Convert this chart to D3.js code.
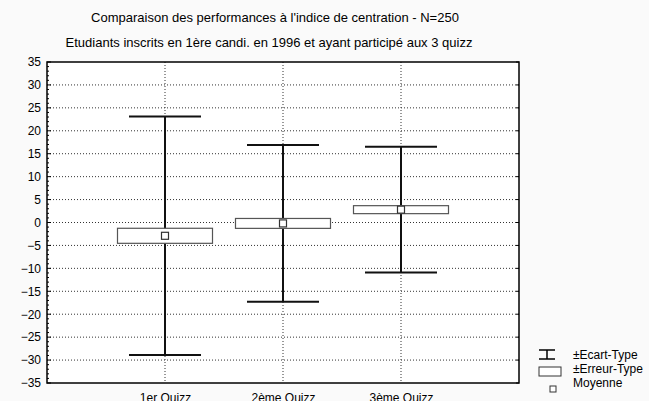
<!DOCTYPE html>
<html>
<head>
<meta charset="utf-8">
<script src="https://cdn.jsdelivr.net/npm/d3@7"></script>
<style>
  body { margin: 0; background: #fafafa; }
  svg { display: block; font-family: "Liberation Sans", Arial, sans-serif; }
</style>
</head>
<body>
<svg id="chart" width="649" height="401"></svg>
<script>
    // data
    const quizzes = ["1er Quizz", "2ème Quizz", "3ème Quizz"];
    const means = [-2.9, -0.2, 2.8];
    const sds = [26.0, 17.1, 13.7];
    const ses = [1.64, 1.08, 0.87];
    const yTicks = d3.range(-35, 36, 5);

    const svg = d3.select("#chart");
    const plotL = 47, plotR = 519, plotT = 62, plotB = 383;

    const x = d3.scalePoint().domain(quizzes).range([plotL, plotR]).padding(1);
    const y = d3.scaleLinear().domain([-35, 35]).range([plotB, plotT]);

    svg.append("rect")
        .attr("x", plotL).attr("y", plotT)
        .attr("width", plotR - plotL).attr("height", plotB - plotT)
        .attr("fill", "white");

    // titles
    svg.append("text")
        .attr("x", 275).attr("y", 22)
        .attr("text-anchor", "middle")
        .attr("font-size", "13px")
        .text("Comparaison des performances à l'indice de centration - N=250");
    svg.append("text")
        .attr("x", 269).attr("y", 47)
        .attr("text-anchor", "middle")
        .attr("font-size", "13px")
        .text("Etudiants inscrits en 1ère candi. en 1996 et ayant participé aux 3 quizz");

    // grid
    const grid = svg.append("g");
    grid.selectAll(".hg")
        .data(yTicks.filter(v => v > -35 && v < 35))
        .join("line")
        .attr("x1", plotL).attr("x2", plotR)
        .attr("y1", d => y(d)).attr("y2", d => y(d))
        .attr("stroke", "#333").attr("stroke-width", 1)
        .attr("stroke-dasharray", "1,2");
    grid.selectAll(".vg")
        .data(quizzes)
        .join("line")
        .attr("x1", d => x(d)).attr("x2", d => x(d))
        .attr("y1", plotT).attr("y2", plotB)
        .attr("stroke", "#333").attr("stroke-width", 1)
        .attr("stroke-dasharray", "1,2");

    // axes
    const yAxis = svg.append("g")
        .attr("transform", `translate(${plotL},0)`)
        .call(d3.axisLeft(y).tickValues(yTicks).tickSize(0).tickPadding(6));
    yAxis.select(".domain").remove();
    yAxis.selectAll("text").attr("font-size", "12px").attr("fill", "#000")
        .attr("font-family", "Liberation Sans, Arial, sans-serif");

    // minor ticks on the left and right edges
    const minor = d3.range(-35, 35.01, 1);
    svg.append("g").selectAll("line")
        .data(minor)
        .join("line")
        .attr("x1", plotL).attr("x2", d => plotL + (d % 5 === 0 ? 4 : 2))
        .attr("y1", d => y(d)).attr("y2", d => y(d))
        .attr("stroke", "#000").attr("stroke-width", 1);
    svg.append("g").selectAll("line")
        .data(yTicks)
        .join("line")
        .attr("x1", plotR).attr("x2", plotR - 3)
        .attr("y1", d => y(d)).attr("y2", d => y(d))
        .attr("stroke", "#000").attr("stroke-width", 1);

    const xAxis = svg.append("g")
        .attr("transform", `translate(0,${plotB})`)
        .call(d3.axisBottom(x).tickSize(0).tickPadding(10));
    xAxis.select(".domain").remove();
    xAxis.selectAll("text").attr("font-size", "12px").attr("fill", "#000")
        .attr("font-family", "Liberation Sans, Arial, sans-serif");

    // frame
    svg.append("rect")
        .attr("x", plotL).attr("y", plotT)
        .attr("width", plotR - plotL).attr("height", plotB - plotT)
        .attr("fill", "none").attr("stroke", "#000").attr("stroke-width", 1.5);

    // box plots
    const items = quizzes.map((q, i) => ({ q, m: means[i], sd: sds[i], se: ses[i] }));
    const g = svg.append("g").selectAll("g").data(items).join("g");

    g.append("line")
        .attr("x1", d => x(d.q)).attr("x2", d => x(d.q))
        .attr("y1", d => y(d.m + d.sd)).attr("y2", d => y(d.m - d.sd))
        .attr("stroke", "#111").attr("stroke-width", 2);
    g.selectAll(".cap")
        .data(d => [d.m + d.sd, d.m - d.sd].map(v => ({ q: d.q, v })))
        .join("line")
        .attr("x1", d => x(d.q) - 36).attr("x2", d => x(d.q) + 36)
        .attr("y1", d => y(d.v)).attr("y2", d => y(d.v))
        .attr("stroke", "#111").attr("stroke-width", 2);
    g.append("rect")
        .attr("x", d => x(d.q) - 47.5)
        .attr("y", d => y(d.m + d.se))
        .attr("width", 95)
        .attr("height", d => y(d.m - d.se) - y(d.m + d.se))
        .attr("fill", "white").attr("stroke", "#555").attr("stroke-width", 1.2);
    g.append("rect")
        .attr("x", d => x(d.q) - 3.5)
        .attr("y", d => y(d.m) - 3.5)
        .attr("width", 7).attr("height", 7)
        .attr("fill", "white").attr("stroke", "#333").attr("stroke-width", 1.2);

    // legend
    const lg = svg.append("g");
    lg.append("line").attr("x1", 539).attr("x2", 555).attr("y1", 350).attr("y2", 350)
        .attr("stroke", "#000").attr("stroke-width", 1.5);
    lg.append("line").attr("x1", 539).attr("x2", 555).attr("y1", 359).attr("y2", 359)
        .attr("stroke", "#000").attr("stroke-width", 1.5);
    lg.append("line").attr("x1", 547).attr("x2", 547).attr("y1", 350).attr("y2", 359)
        .attr("stroke", "#000").attr("stroke-width", 1.5);
    lg.append("rect").attr("x", 539).attr("y", 367).attr("width", 22).attr("height", 9)
        .attr("fill", "white").attr("stroke", "#333").attr("stroke-width", 1);
    lg.append("rect").attr("x", 550).attr("y", 386).attr("width", 6).attr("height", 6)
        .attr("fill", "white").attr("stroke", "#333").attr("stroke-width", 1);
    const legendLabels = ["±Ecart-Type", "±Erreur-Type", "Moyenne"];
    lg.selectAll("text")
        .data(legendLabels)
        .join("text")
        .attr("x", 573)
        .attr("y", (d, i) => 359 + i * 14)
        .attr("font-size", "12px")
        .text(d => d);
</script>
</body>
</html>
